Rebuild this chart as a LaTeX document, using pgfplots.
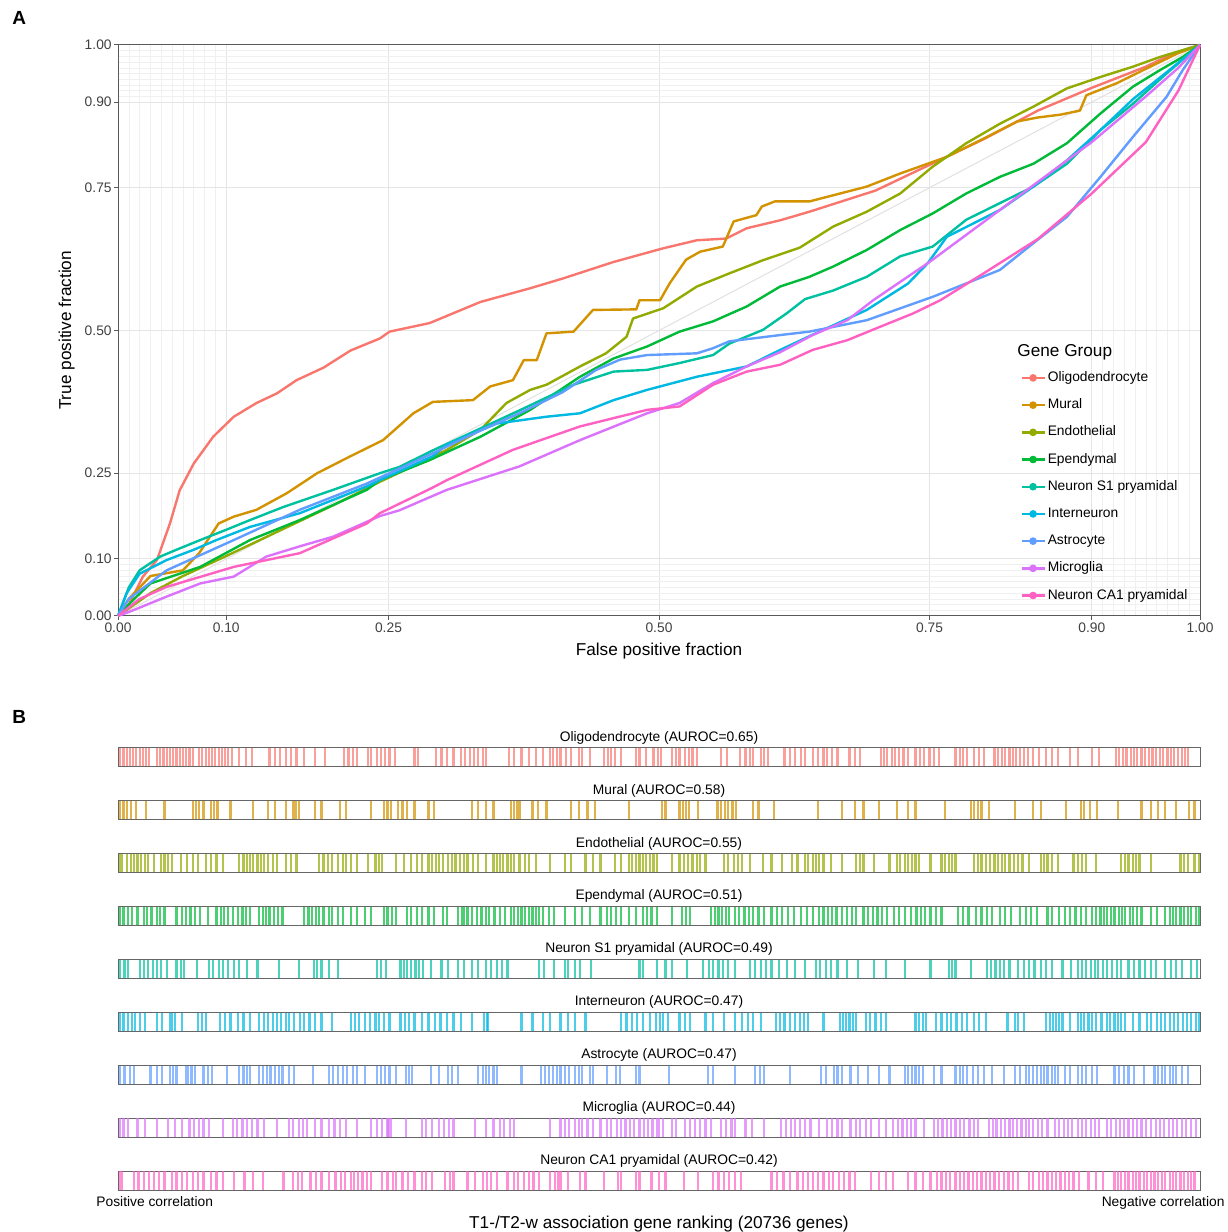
\documentclass[border=0pt]{standalone}
\usepackage{fontspec}
\setmainfont{Liberation Sans}
\usepackage{pgfplots}
\usepackage{pgfplotstable}
\pgfplotsset{compat=1.18}

\definecolor{cOli}{HTML}{F8766D}
\definecolor{cMur}{HTML}{D39200}
\definecolor{cEnd}{HTML}{93AA00}
\definecolor{cEpe}{HTML}{00BA38}
\definecolor{cSone}{HTML}{00C19F}
\definecolor{cInt}{HTML}{00B9E3}
\definecolor{cAst}{HTML}{619CFF}
\definecolor{cMic}{HTML}{DB72FB}
\definecolor{cCA}{HTML}{FF61C3}

\newcommand{\smallfont}{\fontsize{6.9}{8.3}\selectfont}
\newcommand{\titlefont}{\fontsize{8.6}{10}\selectfont}

% barcode positions, percent of the gene ranking (0 = most positive)
\pgfplotstableread[row sep=\\]{p\\0.2\\0.5\\0.8\\1.1\\1.4\\1.7\\2.0\\2.3\\2.6\\2.9\\3.6\\3.9\\4.2\\4.5\\4.8\\5.1\\5.4\\5.7\\6.0\\6.3\\6.6\\6.9\\7.5\\7.8\\8.1\\8.4\\8.7\\9.0\\9.3\\9.6\\9.9\\10.2\\10.5\\11.2\\11.8\\12.4\\14.0\\14.5\\15.0\\15.5\\16.0\\16.5\\17.2\\18.2\\19.1\\20.9\\21.3\\21.7\\22.1\\23.1\\23.4\\23.9\\24.3\\24.7\\25.1\\25.6\\27.4\\27.7\\29.4\\29.9\\30.4\\31.0\\31.7\\32.1\\32.5\\32.9\\33.3\\33.7\\34.0\\36.1\\36.6\\37.3\\38.0\\38.6\\39.3\\39.9\\40.2\\40.6\\40.9\\41.4\\41.9\\42.6\\42.9\\43.6\\44.9\\45.3\\45.6\\45.9\\46.5\\47.9\\48.2\\48.8\\49.5\\49.9\\50.2\\51.2\\51.6\\51.9\\52.4\\52.8\\53.1\\53.5\\55.7\\56.3\\57.5\\58.0\\58.4\\58.7\\59.4\\59.7\\60.1\\61.6\\62.1\\62.6\\63.1\\63.5\\64.2\\64.7\\65.2\\65.5\\66.0\\66.5\\67.6\\68.1\\68.6\\70.5\\70.8\\71.1\\71.5\\71.8\\72.2\\72.6\\73.0\\73.7\\74.1\\74.5\\75.0\\75.4\\75.9\\77.4\\77.8\\78.1\\78.5\\79.1\\79.6\\80.0\\81.0\\81.3\\81.7\\82.0\\82.4\\82.7\\83.0\\83.4\\83.7\\84.1\\84.6\\85.1\\85.8\\86.3\\86.9\\88.0\\88.7\\90.0\\90.7\\92.2\\92.5\\92.9\\93.2\\93.6\\93.9\\94.2\\94.6\\94.9\\95.3\\95.6\\95.9\\96.3\\96.6\\97.0\\97.3\\97.6\\98.0\\98.3\\98.6\\98.9\\}\tOli
\pgfplotstableread[row sep=\\]{p\\0.2\\0.5\\0.8\\1.2\\1.7\\2.6\\4.3\\6.9\\7.2\\7.5\\7.9\\8.6\\8.9\\9.2\\10.4\\12.5\\13.9\\14.5\\15.5\\16.2\\16.4\\16.7\\18.2\\18.8\\20.5\\21.1\\23.4\\24.6\\24.9\\25.2\\25.9\\26.3\\26.7\\27.4\\28.7\\29.2\\32.7\\33.3\\34.0\\34.7\\36.3\\36.6\\36.9\\37.1\\38.3\\38.8\\39.6\\41.9\\42.6\\43.4\\44.1\\47.2\\50.3\\50.6\\51.9\\52.2\\52.5\\52.8\\53.6\\55.4\\55.7\\56.1\\56.4\\56.8\\57.1\\58.7\\59.2\\60.6\\64.7\\66.9\\68.1\\68.9\\70.3\\72.0\\73.0\\73.7\\76.4\\78.8\\79.1\\79.5\\79.8\\80.5\\82.9\\84.6\\85.3\\87.6\\89.0\\89.3\\89.8\\90.5\\92.4\\94.6\\95.5\\96.1\\96.8\\97.8\\99.0\\99.5\\}\tMur
\pgfplotstableread[row sep=\\]{p\\0.2\\0.4\\0.8\\1.2\\1.5\\1.8\\2.1\\2.5\\2.8\\3.3\\4.0\\4.3\\4.6\\5.0\\5.8\\6.4\\6.9\\7.4\\8.1\\8.6\\9.1\\9.7\\11.2\\11.6\\11.9\\12.2\\12.5\\12.9\\13.2\\13.5\\13.9\\14.3\\14.7\\15.5\\16.0\\16.5\\18.6\\19.0\\19.4\\19.8\\20.3\\20.8\\21.1\\21.5\\22.1\\23.1\\23.8\\24.1\\24.4\\25.7\\26.4\\27.1\\27.6\\28.1\\28.7\\29.0\\29.4\\29.7\\30.0\\30.5\\30.9\\31.2\\31.6\\32.0\\32.3\\32.8\\33.3\\34.0\\34.7\\35.0\\35.3\\35.6\\36.0\\36.3\\36.6\\37.1\\37.6\\38.0\\38.6\\39.9\\41.3\\41.9\\43.2\\43.9\\44.6\\45.9\\46.5\\47.2\\47.5\\47.9\\48.2\\48.5\\48.8\\49.2\\49.5\\49.8\\51.2\\51.9\\52.3\\52.7\\53.1\\53.5\\53.8\\54.3\\56.0\\56.4\\56.9\\57.3\\57.7\\58.4\\59.6\\60.4\\61.4\\62.3\\62.8\\63.5\\63.8\\64.2\\64.5\\64.8\\65.2\\65.9\\66.9\\68.2\\68.6\\68.9\\69.9\\71.3\\72.0\\72.3\\72.7\\73.0\\73.4\\73.7\\74.0\\75.1\\76.1\\76.4\\76.8\\77.1\\77.4\\79.1\\79.5\\79.8\\80.2\\80.6\\81.0\\81.3\\81.7\\82.0\\82.4\\82.8\\83.2\\83.6\\84.2\\85.3\\85.6\\85.9\\86.3\\86.9\\88.3\\88.7\\89.1\\89.5\\90.4\\92.7\\93.1\\93.4\\93.8\\94.1\\94.4\\95.5\\98.2\\98.5\\98.9\\99.5\\99.9\\}\tEnd
\pgfplotstableread[row sep=\\]{p\\0.2\\0.5\\0.9\\1.3\\1.8\\2.4\\2.7\\3.1\\3.6\\3.9\\4.3\\5.4\\5.9\\6.3\\6.7\\7.1\\7.6\\8.3\\9.1\\9.5\\9.8\\10.2\\10.6\\11.1\\11.5\\11.8\\12.2\\13.0\\13.4\\13.7\\14.0\\14.4\\14.8\\15.2\\17.2\\17.6\\17.9\\18.3\\18.6\\19.0\\19.5\\19.8\\20.3\\20.8\\21.5\\22.1\\22.8\\23.4\\24.6\\24.9\\25.3\\25.7\\26.7\\27.1\\27.6\\28.1\\28.7\\29.2\\30.0\\30.4\\31.4\\31.8\\32.0\\32.3\\32.7\\33.2\\33.6\\34.0\\34.3\\34.8\\35.3\\35.8\\36.3\\36.6\\37.0\\37.3\\37.6\\38.0\\38.3\\38.6\\38.9\\39.3\\39.8\\40.3\\41.3\\42.2\\42.9\\43.6\\44.6\\45.2\\45.6\\46.0\\46.5\\47.2\\47.9\\48.5\\48.9\\49.3\\49.8\\51.2\\52.1\\52.5\\52.9\\54.8\\55.2\\55.5\\55.8\\56.2\\56.5\\57.0\\57.4\\57.9\\58.3\\58.7\\59.2\\59.7\\60.4\\60.9\\61.4\\61.9\\62.5\\63.1\\63.7\\64.2\\64.8\\65.2\\65.6\\66.0\\66.4\\66.9\\67.4\\67.8\\68.2\\68.9\\69.3\\69.8\\70.2\\70.6\\71.1\\71.7\\72.2\\72.7\\73.3\\73.8\\74.2\\74.6\\75.1\\75.6\\76.1\\77.6\\78.1\\78.6\\79.3\\79.8\\80.3\\80.8\\81.5\\82.0\\82.5\\83.4\\83.9\\84.4\\84.9\\85.9\\86.3\\87.0\\87.5\\88.0\\88.5\\89.0\\89.5\\90.0\\90.4\\90.8\\91.1\\91.4\\91.8\\92.1\\92.5\\92.8\\93.1\\93.5\\93.8\\94.2\\94.6\\95.5\\96.0\\96.8\\97.2\\97.5\\97.8\\98.2\\98.5\\98.9\\99.2\\99.6\\99.9\\}\tEpe
\pgfplotstableread[row sep=\\]{p\\0.2\\0.6\\0.9\\2.0\\2.4\\2.8\\3.2\\3.6\\4.0\\4.5\\5.4\\5.8\\6.1\\7.3\\8.4\\8.8\\9.3\\9.7\\10.2\\10.7\\11.2\\11.9\\12.9\\14.9\\16.7\\18.1\\18.4\\18.8\\19.5\\20.3\\23.9\\24.3\\24.8\\26.1\\26.4\\26.7\\27.1\\27.5\\27.8\\28.2\\28.9\\29.9\\30.5\\31.4\\32.0\\32.7\\33.3\\34.0\\34.5\\35.0\\35.5\\36.0\\38.9\\39.4\\40.3\\41.3\\41.6\\42.2\\42.7\\43.7\\48.2\\48.5\\49.8\\50.6\\51.2\\52.6\\54.1\\54.6\\55.0\\55.5\\55.9\\56.4\\57.0\\58.4\\58.9\\59.4\\59.9\\60.4\\61.1\\61.8\\62.6\\63.5\\64.5\\64.9\\65.4\\65.9\\66.5\\67.4\\68.4\\69.9\\71.0\\72.7\\75.1\\76.8\\77.1\\77.4\\78.8\\80.3\\80.7\\81.1\\81.5\\81.9\\82.4\\83.2\\83.7\\84.2\\84.7\\85.3\\85.8\\86.3\\87.3\\88.1\\88.7\\89.1\\89.5\\89.9\\90.3\\90.6\\91.0\\91.4\\91.9\\92.3\\92.7\\93.4\\93.9\\94.4\\94.9\\95.5\\95.9\\96.8\\97.3\\97.8\\98.3\\99.2\\99.7\\}\tSone
\pgfplotstableread[row sep=\\]{p\\0.2\\0.5\\0.9\\1.3\\1.6\\2.0\\2.5\\3.6\\4.1\\4.8\\5.0\\5.3\\5.9\\7.4\\7.8\\8.1\\9.4\\9.9\\10.4\\11.1\\11.6\\12.2\\13.0\\13.5\\13.9\\14.3\\14.7\\15.1\\15.5\\15.8\\16.3\\16.8\\17.2\\17.7\\18.2\\18.8\\19.8\\21.5\\21.9\\22.3\\22.8\\23.3\\23.8\\24.1\\24.6\\25.1\\26.1\\26.5\\26.9\\27.4\\28.1\\28.7\\29.3\\29.8\\30.4\\31.0\\31.7\\32.7\\33.8\\34.1\\34.2\\37.3\\38.3\\39.3\\39.9\\40.9\\41.6\\42.2\\43.2\\46.5\\47.0\\47.5\\48.0\\48.5\\49.2\\49.7\\50.1\\50.4\\50.8\\51.9\\52.4\\52.9\\54.3\\55.0\\56.0\\57.0\\57.7\\58.2\\58.7\\59.4\\60.8\\61.2\\61.6\\62.1\\62.6\\63.0\\63.4\\63.8\\65.2\\66.7\\67.0\\67.3\\67.6\\67.9\\68.2\\69.1\\69.5\\70.0\\70.5\\71.0\\73.7\\74.0\\74.4\\74.7\\75.6\\76.1\\76.6\\77.0\\77.5\\78.0\\78.5\\79.1\\79.6\\80.2\\82.2\\82.9\\83.2\\83.7\\85.8\\86.1\\86.4\\86.7\\87.0\\87.3\\88.0\\88.7\\89.0\\89.3\\89.7\\90.0\\90.4\\90.9\\91.4\\91.7\\92.1\\92.4\\92.7\\93.1\\93.8\\94.4\\95.1\\95.5\\96.0\\96.4\\96.8\\97.2\\97.6\\98.0\\98.4\\98.8\\99.2\\99.6\\99.9\\}\tInt
\pgfplotstableread[row sep=\\]{p\\0.2\\0.6\\1.1\\1.5\\3.0\\3.6\\4.1\\4.8\\5.1\\5.4\\6.3\\6.5\\6.8\\7.1\\7.9\\8.3\\8.7\\10.1\\11.2\\11.6\\11.9\\12.2\\13.0\\13.4\\13.8\\14.1\\14.5\\14.9\\15.2\\15.8\\16.3\\18.0\\19.5\\19.9\\20.3\\20.8\\21.2\\21.7\\22.1\\22.8\\23.9\\24.3\\24.7\\25.1\\25.7\\26.6\\26.9\\27.2\\28.9\\29.7\\30.5\\30.9\\31.4\\33.3\\33.7\\34.0\\34.3\\34.7\\35.0\\37.3\\39.1\\39.5\\39.8\\40.2\\40.6\\40.9\\41.3\\41.7\\42.2\\42.6\\42.9\\43.6\\43.9\\45.2\\46.0\\46.4\\47.9\\48.2\\50.9\\54.5\\55.0\\57.0\\58.9\\59.3\\59.7\\62.1\\65.0\\65.4\\66.2\\66.5\\66.9\\67.7\\68.4\\69.3\\70.3\\71.3\\72.7\\73.0\\73.4\\73.7\\74.0\\74.4\\75.4\\76.1\\77.4\\77.8\\78.1\\78.5\\79.0\\79.5\\80.0\\80.8\\81.9\\82.9\\83.4\\83.9\\84.2\\84.6\\84.9\\85.3\\85.6\\85.9\\86.3\\86.6\\86.9\\87.5\\88.0\\88.7\\89.1\\89.5\\90.0\\90.5\\92.1\\92.5\\93.0\\93.4\\93.9\\94.8\\95.8\\96.1\\96.5\\96.8\\97.2\\97.5\\97.8\\98.3\\98.9\\}\tAst
\pgfplotstableread[row sep=\\]{p\\0.2\\0.5\\0.9\\1.8\\2.5\\3.6\\4.6\\5.3\\5.9\\6.6\\7.0\\7.5\\7.9\\8.4\\9.7\\10.6\\11.0\\11.5\\11.9\\12.4\\12.9\\13.5\\14.7\\15.8\\16.2\\16.7\\17.1\\17.5\\18.2\\18.8\\19.5\\20.0\\20.5\\21.1\\22.1\\23.4\\23.9\\24.4\\24.9\\25.0\\25.2\\26.6\\28.1\\28.5\\29.0\\29.7\\30.1\\30.6\\31.0\\33.0\\34.0\\34.7\\35.3\\35.7\\36.2\\36.6\\39.9\\40.9\\41.3\\41.7\\42.2\\42.6\\42.9\\43.4\\43.9\\44.6\\45.2\\45.6\\46.1\\46.5\\46.9\\47.3\\47.7\\48.2\\48.6\\49.0\\49.4\\49.8\\50.0\\50.4\\51.2\\51.6\\52.4\\52.9\\53.3\\53.8\\54.3\\54.8\\55.7\\56.2\\56.7\\57.0\\58.0\\58.6\\59.7\\61.3\\61.7\\62.2\\62.6\\63.0\\63.5\\64.0\\64.8\\65.5\\66.0\\66.5\\66.9\\67.7\\68.2\\68.6\\69.1\\69.6\\70.3\\71.0\\71.6\\72.1\\72.5\\72.9\\73.3\\73.7\\74.5\\75.4\\75.8\\76.2\\76.6\\77.0\\77.4\\77.8\\78.2\\78.7\\79.1\\79.5\\80.5\\80.9\\81.2\\81.6\\82.0\\82.4\\82.7\\83.1\\83.5\\83.9\\84.2\\84.6\\85.0\\85.4\\85.9\\86.6\\87.0\\87.4\\87.8\\88.2\\88.7\\89.1\\89.5\\89.9\\90.3\\90.7\\91.4\\91.8\\92.2\\92.6\\93.0\\93.4\\93.8\\94.2\\94.6\\95.0\\95.5\\95.9\\96.3\\96.7\\97.1\\97.5\\97.9\\98.3\\98.7\\99.2\\99.6\\}\tMic
\pgfplotstableread[row sep=\\]{p\\0.2\\0.4\\1.5\\1.9\\2.4\\2.9\\3.3\\3.8\\4.3\\5.0\\5.4\\5.9\\6.4\\6.9\\7.4\\7.9\\8.6\\9.1\\9.7\\10.7\\11.7\\12.5\\13.4\\15.3\\16.2\\16.6\\17.0\\17.8\\18.3\\18.8\\19.5\\20.1\\20.6\\21.0\\21.5\\21.8\\22.2\\22.6\\23.0\\23.4\\24.4\\24.9\\25.4\\25.7\\26.3\\26.8\\27.4\\28.1\\28.5\\29.0\\30.2\\30.7\\31.0\\32.3\\33.0\\33.7\\34.1\\34.5\\35.0\\36.0\\36.6\\37.0\\37.5\\38.0\\38.4\\38.9\\39.9\\40.4\\40.7\\40.9\\41.6\\42.7\\43.2\\44.9\\46.2\\46.5\\47.9\\48.2\\49.3\\50.0\\50.6\\52.3\\53.6\\55.0\\55.5\\56.0\\56.5\\57.0\\57.6\\60.4\\60.9\\61.5\\62.1\\62.8\\63.3\\63.8\\64.2\\64.7\\65.2\\65.7\\66.1\\66.6\\67.1\\67.6\\68.1\\69.6\\70.3\\71.0\\71.6\\73.0\\73.7\\74.4\\75.1\\75.7\\76.1\\76.5\\76.9\\77.4\\77.8\\78.2\\78.6\\79.0\\79.4\\79.8\\80.2\\80.6\\81.0\\81.4\\81.9\\82.3\\82.7\\83.2\\84.2\\84.6\\85.1\\85.5\\85.9\\86.3\\86.7\\87.1\\87.5\\87.9\\88.3\\88.8\\89.7\\90.4\\91.0\\92.1\\92.4\\92.7\\93.1\\93.4\\93.8\\94.1\\94.4\\94.8\\95.1\\95.5\\95.8\\96.1\\96.5\\96.8\\97.2\\97.5\\97.8\\98.2\\98.5\\98.9\\99.2\\99.5\\}\tCA

\pgfplotsset{
  roc/.style={line width=1.2pt, line join=round},
  bc/.style={only marks, mark=|, mark size=4.6pt, mark options={line width=1.1pt, opacity=0.7}},
}

\begin{document}
\begin{tikzpicture}
\useasboundingbox (0,0) rectangle (613.5pt,616pt);

\node[anchor=base west, inner sep=0pt, font=\bfseries\fontsize{9.5}{11}\selectfont] at (6pt,603.5pt) {A};
\node[anchor=base west, inner sep=0pt, font=\bfseries\fontsize{9.5}{11}\selectfont] at (6pt,254pt) {B};

% ---------- panel A: ROC curves ----------
\begin{axis}[
  at={(59pt,308pt)}, anchor=south west,
  scale only axis, width=541pt, height=285.5pt,
  xmin=0, xmax=1, ymin=0, ymax=1,
  xtick={0,0.1,0.25,0.5,0.75,0.9,1},
  ytick={0,0.1,0.25,0.5,0.75,0.9,1},
  minor xtick={0.01,0.02,0.03,0.04,0.05,0.06,0.07,0.08,0.09,0.91,0.92,0.93,0.94,0.95,0.96,0.97,0.98,0.99},
  minor ytick={0.01,0.02,0.03,0.04,0.05,0.06,0.07,0.08,0.09,0.91,0.92,0.93,0.94,0.95,0.96,0.97,0.98,0.99},
  grid=both,
  major grid style={line width=0.5pt, draw=black!10},
  minor grid style={line width=0.3pt, draw=black!6},
  tick pos=left, tick align=outside,
  major tick length=2pt, minor tick length=0pt,
  tick style={black!65, line width=0.5pt},
  axis line style={black!65, line width=0.5pt},
  /pgf/number format/fixed, /pgf/number format/fixed zerofill,
  /pgf/number format/precision=2, /pgf/number format/assume math mode=true,
  tick label style={font=\smallfont, text=black!75, inner sep=1pt},
  xlabel={False positive fraction}, ylabel={True positive fraction},
  label style={font=\titlefont},
  xlabel style={at={(axis description cs:0.5,-0.070)}, anchor=base},
  ylabel style={at={(axis description cs:-0.0434,0.5)}, anchor=base},
  legend style={at={(axis cs:0.8336,0.429)}, anchor=north west, draw=none, fill=none,
    inner sep=0pt, row sep=7.1pt, column sep=1pt, font=\smallfont,
    nodes={inner sep=0pt, text height=5pt, text depth=1.5pt}},
  legend cell align=left,
  legend image code/.code={\draw[#1, line width=1.2pt] (0pt,0pt) -- (11.5pt,0pt); \fill[#1] (5.75pt,0pt) circle (1.3pt);},
  clip=false,
]
\addplot[black!12, line width=0.5pt, forget plot] coordinates {(0,0) (1,1)};

\addplot[roc, cOli] coordinates {(0,0) (0.01,0.02) (0.023,0.069) (0.036,0.098) (0.042,0.13) (0.048,0.162) (0.057,0.22) (0.070,0.267) (0.088,0.314) (0.107,0.349) (0.128,0.373) (0.147,0.39) (0.165,0.413) (0.19,0.435) (0.215,0.465) (0.242,0.486) (0.251,0.498) (0.288,0.513) (0.335,0.55) (0.381,0.574) (0.411,0.591) (0.458,0.62) (0.504,0.644) (0.535,0.658) (0.562,0.661) (0.581,0.679) (0.612,0.693) (0.639,0.708) (0.70,0.745) (0.75,0.79) (0.80,0.835) (0.85,0.885) (0.90,0.925) (0.95,0.962) (0.975,0.985) (1,1)};
\addlegendentry{Oligodendrocyte}
\addplot[roc, cMur] coordinates {(0,0) (0.01,0.03) (0.03,0.07) (0.06,0.08) (0.075,0.11) (0.093,0.162) (0.107,0.174) (0.128,0.186) (0.156,0.215) (0.184,0.25) (0.214,0.279) (0.245,0.308) (0.273,0.355) (0.291,0.375) (0.328,0.378) (0.344,0.402) (0.365,0.413) (0.375,0.448) (0.387,0.448) (0.396,0.495) (0.421,0.498) (0.439,0.536) (0.479,0.537) (0.482,0.553) (0.501,0.553) (0.51,0.583) (0.525,0.624) (0.538,0.638) (0.559,0.647) (0.569,0.691) (0.59,0.702) (0.595,0.717) (0.607,0.726) (0.639,0.726) (0.692,0.752) (0.723,0.775) (0.766,0.804) (0.80,0.836) (0.831,0.866) (0.85,0.873) (0.871,0.878) (0.889,0.885) (0.895,0.912) (0.923,0.933) (0.954,0.962) (0.979,0.985) (1,1)};
\addlegendentry{Mural}
\addplot[roc, cEnd] coordinates {(0,0) (0.03,0.04) (0.06,0.07) (0.1,0.105) (0.15,0.15) (0.2,0.195) (0.242,0.235) (0.27,0.26) (0.304,0.291) (0.335,0.326) (0.359,0.373) (0.381,0.396) (0.396,0.405) (0.427,0.437) (0.451,0.46) (0.47,0.489) (0.476,0.521) (0.504,0.539) (0.535,0.577) (0.565,0.6) (0.596,0.623) (0.63,0.645) (0.661,0.682) (0.692,0.708) (0.723,0.74) (0.753,0.787) (0.784,0.828) (0.815,0.862) (0.846,0.892) (0.877,0.924) (0.908,0.944) (0.938,0.962) (0.963,0.979) (0.984,0.991) (1,1)};
\addlegendentry{Endothelial}
\addplot[roc, cEpe] coordinates {(0,0) (0.015,0.03) (0.03,0.057) (0.076,0.086) (0.122,0.133) (0.168,0.168) (0.23,0.221) (0.242,0.238) (0.288,0.273) (0.335,0.314) (0.381,0.361) (0.427,0.419) (0.458,0.451) (0.489,0.472) (0.519,0.498) (0.55,0.516) (0.581,0.542) (0.612,0.577) (0.639,0.594) (0.661,0.612) (0.692,0.641) (0.723,0.676) (0.753,0.705) (0.784,0.74) (0.815,0.769) (0.846,0.792) (0.877,0.828) (0.908,0.88) (0.938,0.927) (0.963,0.956) (0.984,0.979) (1,1)};
\addlegendentry{Ependymal}
\addplot[roc, cSone] coordinates {(0,0) (0.01,0.05) (0.02,0.08) (0.039,0.104) (0.054,0.116) (0.076,0.133) (0.1,0.151) (0.122,0.168) (0.153,0.191) (0.199,0.221) (0.242,0.25) (0.26,0.261) (0.291,0.29) (0.322,0.317) (0.371,0.36) (0.421,0.405) (0.458,0.428) (0.489,0.431) (0.519,0.443) (0.55,0.457) (0.565,0.477) (0.596,0.501) (0.618,0.53) (0.635,0.555) (0.661,0.57) (0.692,0.594) (0.723,0.63) (0.753,0.647) (0.784,0.694) (0.815,0.723) (0.846,0.752) (0.877,0.792) (0.908,0.851) (0.938,0.897) (0.969,0.95) (1,1)};
\addlegendentry{Neuron S1 pryamidal}
\addplot[roc, cInt] coordinates {(0,0) (0.008,0.04) (0.02,0.074) (0.045,0.098) (0.07,0.116) (0.091,0.133) (0.122,0.156) (0.168,0.18) (0.23,0.227) (0.242,0.238) (0.291,0.28) (0.304,0.3) (0.35,0.337) (0.396,0.349) (0.427,0.355) (0.458,0.378) (0.489,0.396) (0.535,0.419) (0.581,0.437) (0.612,0.466) (0.639,0.49) (0.692,0.536) (0.73,0.582) (0.748,0.617) (0.766,0.664) (0.815,0.711) (0.846,0.752) (0.877,0.798) (0.908,0.851) (0.938,0.905) (0.969,0.952) (1,1)};
\addlegendentry{Interneuron}
\addplot[roc, cAst] coordinates {(0,0) (0.01,0.03) (0.045,0.08) (0.107,0.133) (0.168,0.186) (0.23,0.232) (0.291,0.285) (0.335,0.325) (0.371,0.355) (0.411,0.392) (0.442,0.431) (0.464,0.449) (0.489,0.457) (0.535,0.46) (0.55,0.469) (0.565,0.481) (0.612,0.492) (0.639,0.498) (0.692,0.518) (0.753,0.559) (0.815,0.606) (0.846,0.653) (0.877,0.699) (0.908,0.769) (0.938,0.839) (0.969,0.909) (0.984,0.956) (1,1)};
\addlegendentry{Astrocyte}
\addplot[roc, cMic] coordinates {(0,0) (0.014,0.01) (0.045,0.034) (0.076,0.057) (0.107,0.069) (0.137,0.104) (0.168,0.122) (0.199,0.139) (0.242,0.175) (0.26,0.185) (0.304,0.221) (0.322,0.232) (0.371,0.262) (0.427,0.308) (0.489,0.355) (0.519,0.373) (0.55,0.408) (0.581,0.437) (0.612,0.462) (0.642,0.492) (0.674,0.518) (0.698,0.553) (0.75,0.62) (0.80,0.69) (0.85,0.76) (0.90,0.83) (0.95,0.91) (0.98,0.96) (1,1)};
\addlegendentry{Microglia}
\addplot[roc, cCA] coordinates {(0,0) (0.02,0.03) (0.045,0.051) (0.107,0.086) (0.168,0.11) (0.23,0.162) (0.242,0.18) (0.291,0.225) (0.304,0.238) (0.365,0.291) (0.427,0.332) (0.489,0.361) (0.519,0.367) (0.55,0.405) (0.581,0.428) (0.612,0.44) (0.642,0.466) (0.674,0.483) (0.705,0.507) (0.735,0.53) (0.76,0.553) (0.80,0.60) (0.85,0.66) (0.90,0.74) (0.95,0.83) (0.98,0.92) (1,1)};
\addlegendentry{Neuron CA1 pryamidal}

\node[anchor=base west, inner sep=0pt, font=\titlefont] at (axis cs:0.8309,0.455) {Gene Group};
\end{axis}

% ---------- panel B: barcodes ----------
\begin{axis}[
  at={(59pt,12.45pt)}, anchor=south west,
  scale only axis, width=541pt, height=238.3pt,
  xmin=0, xmax=100, ymin=0.5, ymax=9.5,
  axis lines=none, clip=false,
]
\addplot[bc, cOli] table[x=p, y index=0, y expr=9] {\tOli};
\addplot[bc, cMur] table[x=p, y index=0, y expr=8] {\tMur};
\addplot[bc, cEnd] table[x=p, y index=0, y expr=7] {\tEnd};
\addplot[bc, cEpe] table[x=p, y index=0, y expr=6] {\tEpe};
\addplot[bc, cSone] table[x=p, y index=0, y expr=5] {\tSone};
\addplot[bc, cInt] table[x=p, y index=0, y expr=4] {\tInt};
\addplot[bc, cAst] table[x=p, y index=0, y expr=3] {\tAst};
\addplot[bc, cMic] table[x=p, y index=0, y expr=2] {\tMic};
\addplot[bc, cCA] table[x=p, y index=0, y expr=1] {\tCA};

\pgfplotsinvokeforeach{1,...,9}{
  \draw[black!60, line width=0.5pt] (axis cs:0,#1-0.179) rectangle (axis cs:100,#1+0.179);
}
\node[anchor=base, font=\smallfont] at (axis cs:50,9.30) {Oligodendrocyte (AUROC=0.65)};
\node[anchor=base, font=\smallfont] at (axis cs:50,8.30) {Mural (AUROC=0.58)};
\node[anchor=base, font=\smallfont] at (axis cs:50,7.30) {Endothelial (AUROC=0.55)};
\node[anchor=base, font=\smallfont] at (axis cs:50,6.30) {Ependymal (AUROC=0.51)};
\node[anchor=base, font=\smallfont] at (axis cs:50,5.30) {Neuron S1 pryamidal (AUROC=0.49)};
\node[anchor=base, font=\smallfont] at (axis cs:50,4.30) {Interneuron (AUROC=0.47)};
\node[anchor=base, font=\smallfont] at (axis cs:50,3.30) {Astrocyte (AUROC=0.47)};
\node[anchor=base, font=\smallfont] at (axis cs:50,2.30) {Microglia (AUROC=0.44)};
\node[anchor=base, font=\smallfont] at (axis cs:50,1.30) {Neuron CA1 pryamidal (AUROC=0.42)};

\node[anchor=base west, inner sep=0pt, font=\smallfont] at (axis cs:-2.03,0.52) {Positive correlation};
\node[anchor=base east, inner sep=0pt, font=\smallfont] at (axis cs:102.3,0.52) {Negative correlation};
\node[anchor=base, inner sep=0pt, font=\titlefont] at (axis cs:50,0.105) {T1-/T2-w association gene ranking (20736 genes)};
\end{axis}
\end{tikzpicture}
\end{document}
